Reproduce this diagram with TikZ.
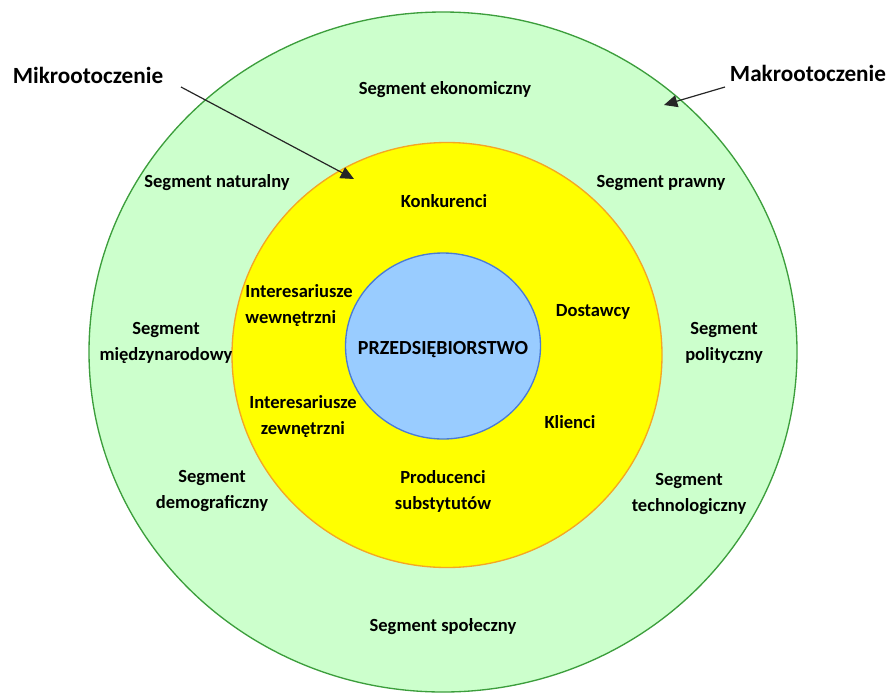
\documentclass[tikz,border=0pt]{standalone}
\usepackage{fontspec}
\setmainfont{Carlito}
\usetikzlibrary{shapes.geometric,arrows.meta}
\definecolor{macrofill}{HTML}{CCFFCC}
\definecolor{macroline}{HTML}{3C9E3C}
\definecolor{microfill}{HTML}{FFFF00}
\definecolor{microline}{HTML}{F5A623}
\definecolor{firmfill}{HTML}{99CCFF}
\definecolor{firmline}{HTML}{4A7BD6}
\tikzset{
  ring/.style={ellipse, draw, line width=1pt, inner sep=0pt},
  seg/.style={font=\fontsize{13.9}{19.5}\selectfont\bfseries, align=center, inner sep=0pt},
  title/.style={font=\fontsize{17.4}{20}\selectfont\bfseries, inner sep=0pt},
  pointer/.style={draw=black!85, line width=0.9pt, -{Triangle[length=10pt,width=9pt]}}
}
\begin{document}
\begin{tikzpicture}[x=0.75pt,y=-0.75pt]
\useasboundingbox (0,0) rectangle (888,693);
% three nested environments
\node[ring, fill=macrofill, draw=macroline, minimum width=708*0.75pt, minimum height=680*0.75pt] (macro) at (443,352) {};
\node[ring, fill=microfill, draw=microline, minimum width=430*0.75pt, minimum height=425*0.75pt] (micro) at (447,355) {};
\node[ring, fill=firmfill, draw=firmline, minimum width=195*0.75pt, minimum height=186*0.75pt] (firm) at (443,346) {};
\node[seg, font=\fontsize{15}{18}\selectfont\bfseries] (firmtxt) at (443,350) {PRZEDSIĘBIORSTWO};

% macro-environment segments
\node[seg] (eko) at (445,90) {Segment ekonomiczny};
\node[seg] (nat) at (217,183) {Segment naturalny};
\node[seg] (praw) at (661,183) {Segment prawny};
\node[seg] (mied) at (166,343) {Segment\\międzynarodowy};
\node[seg] (pol) at (724,343) {Segment\\polityczny};
\node[seg] (demo) at (212,491) {Segment\\demograficzny};
\node[seg] (tech) at (689,494) {Segment\\technologiczny};
\node[seg] (spol) at (443,627) {Segment społeczny};

% micro-environment actors
\node[seg] (konk) at (444,201) {Konkurenci};
\node[seg, align=left] (wew) at (299,306) {Interesariusze\\wewnętrzni};
\node[seg] (dost) at (593,312) {Dostawcy};
\node[seg] (zew) at (303,417) {Interesariusze\\zewnętrzni};
\node[seg] (kli) at (570,422) {Klienci};
\node[seg] (prod) at (443,491) {Producenci\\substytutów};

% titles with pointers
\node[title] (mikrot) at (88,75) {Mikrootoczenie};
\node[title] (makrot) at (808,73) {Makrootoczenie};
\coordinate (mikrotail) at (181,87);
\coordinate (mikrotip) at (354,179);
\coordinate (makrotail) at (725,87);
\coordinate (makrotip) at (664,105);
\draw[pointer] (mikrotail) -- (mikrotip);
\draw[pointer] (makrotail) -- (makrotip);
\end{tikzpicture}
\end{document}
